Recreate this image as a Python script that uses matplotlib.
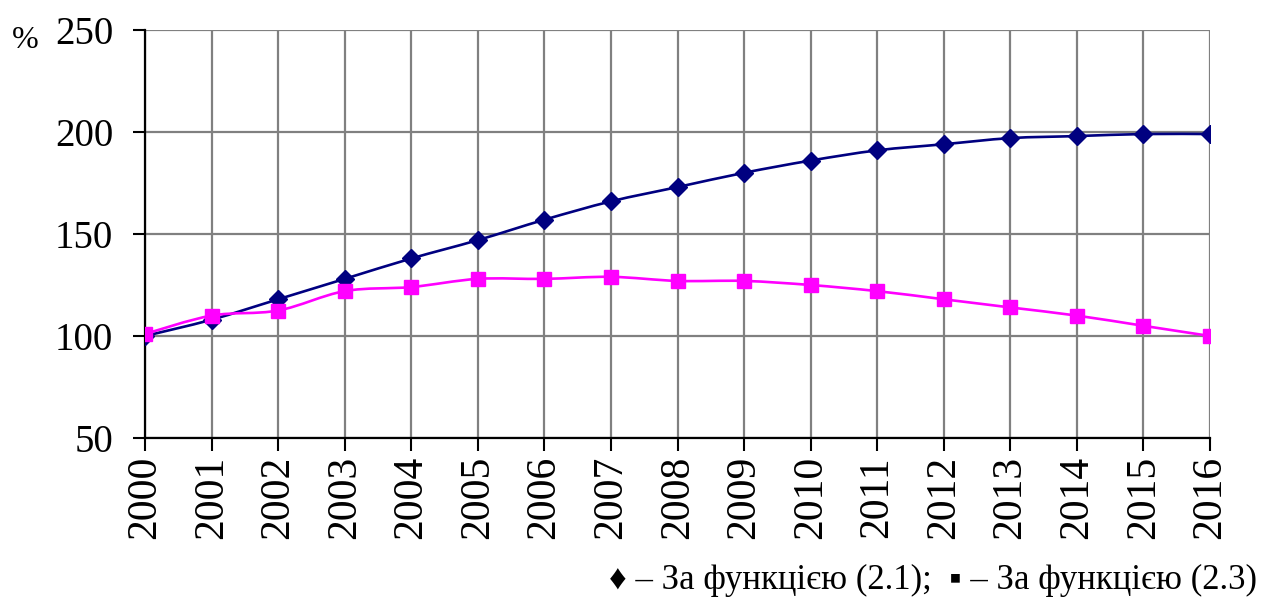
import numpy as np
import matplotlib
matplotlib.use('Agg')
import matplotlib.pyplot as plt
from matplotlib.path import Path
from matplotlib.patches import PathPatch

# дані
years = list(range(2000, 2017))
func_21 = [100, 108, 118, 128, 138, 147, 157, 166, 173, 180, 186, 191, 194, 197, 198, 199, 199]
func_23 = [101, 110, 112.5, 122, 124, 128, 128, 129, 127, 127, 125, 122, 118, 114, 110, 105, 100]

plt.rcParams['font.family'] = ['Liberation Serif', 'DejaVu Serif']


def smooth_path(x, y):
    # згладжування як в Excel (Catmull-Rom через криві Безьє)
    pts = np.column_stack([x, y]).astype(float)
    verts = [pts[0]]
    codes = [Path.MOVETO]
    n = len(pts)
    for i in range(n - 1):
        p0 = pts[i - 1] if i > 0 else pts[i]
        p1 = pts[i]
        p2 = pts[i + 1]
        p3 = pts[i + 2] if i + 2 < n else pts[i + 1]
        c1 = p1 + (p2 - p0) / 6
        c2 = p2 - (p3 - p1) / 6
        verts += [c1, c2, p2]
        codes += [Path.CURVE4] * 3
    return Path(verts, codes)


fig = plt.figure(figsize=(12.73, 6.02), dpi=100)
ax = fig.add_axes([145 / 1273, 1 - 438 / 602, (1210 - 145) / 1273, (438 - 30) / 602])

ax.add_patch(PathPatch(smooth_path(years, func_21), fill=False, edgecolor='#000080', lw=1.9, zorder=3))
ax.plot(years, func_21, linestyle='none', marker='D', markersize=9, color='#000080', zorder=4)
ax.add_patch(PathPatch(smooth_path(years, func_23), fill=False, edgecolor='#FF00FF', lw=1.9, zorder=5))
ax.plot(years, func_23, linestyle='none', marker='s', markersize=10, color='#FF00FF', zorder=6)

ax.set_xlim(2000, 2016)
ax.set_ylim(50, 250)
ax.set_xticks(years)
ax.set_xticklabels([str(y) for y in years], rotation=90, fontsize=30)
ax.set_yticks([50, 100, 150, 200, 250])
ax.tick_params(axis='y', labelsize=28, direction='out', length=9, width=1.5, pad=14)
ax.tick_params(axis='x', direction='out', length=9, width=1.5, pad=4)

ax.grid(True, color='#808080', lw=1.6)
ax.set_axisbelow(True)
for s in ['top', 'right']:
    ax.spines[s].set_visible(False)
for s in ['left', 'bottom']:
    ax.spines[s].set_linewidth(1.6)
    ax.spines[s].set_zorder(2.5)

fig.text(12 / 1273, 1 - 40 / 602, '%', fontsize=23, va='center', ha='left')
fig.text(1257 / 1273, 1 - 580 / 602, '♦ – За функцією (2.1);  ▪ – За функцією (2.3)',
         fontsize=25, ha='right', va='center', family=['Liberation Serif', 'DejaVu Sans'])

fig.savefig('out.png', dpi=100)
